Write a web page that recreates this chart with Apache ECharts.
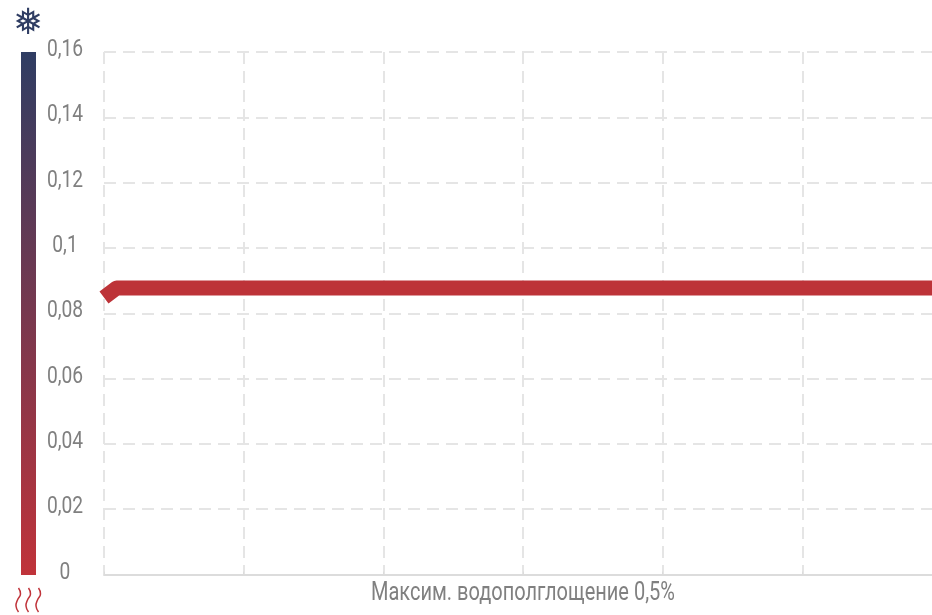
<!DOCTYPE html>
<html>
<head>
<meta charset="utf-8">
<script src="https://cdn.jsdelivr.net/npm/echarts@6/dist/echarts.min.js"></script>
<style>
  html, body { margin: 0; padding: 0; background: #fff; overflow: hidden; }
  #main { width: 932px; height: 615px; }
</style>
</head>
<body>
<div id="main"></div>
<script>
var axisTitle = 'Максим. водополглощение 0,5%';
var yTicks = [0, 0.02, 0.04, 0.06, 0.08, 0.1, 0.12, 0.14, 0.16];
var linePoints = [[0, 0.0848], [0.09, 0.0877], [6, 0.0877]];

var fontName = 'Roboto, sans-serif';
var textColor = '#808080';
var narrow = 0.8; // the original face is a condensed one, none is installed
var dashed = { color: '#e5e5e5', width: 2, type: [12, 7] };

var chart = echarts.init(document.getElementById('main'));

chart.setOption({
    animation: false,
    backgroundColor: '#fff',
    grid: { left: 104, top: 52, width: 838, height: 522.5, outerBoundsMode: 'none' },
    xAxis: {
        type: 'value',
        min: 0,
        max: 6,
        interval: 1,
        axisLabel: { show: false },
        axisLine: { show: true, lineStyle: { color: '#dcdcdc', width: 2 } },
        axisTick: { show: true, length: 3, inside: true, lineStyle: { color: '#dcdcdc', width: 1 } },
        splitLine: { show: true, lineStyle: dashed }
    },
    yAxis: {
        type: 'value',
        min: yTicks[0],
        max: yTicks[yTicks.length - 1],
        interval: 0.02,
        axisLine: { show: false },
        axisTick: { show: false },
        axisLabel: { show: false },
        splitLine: { show: true, lineStyle: dashed }
    },
    graphic: [
        {
            type: 'rect',
            shape: { x: 21, y: 52, width: 15, height: 523 },
            style: {
                fill: {
                    type: 'linear', x: 0, y: 0, x2: 0, y2: 1,
                    colorStops: [{ offset: 0, color: '#2f3d63' }, { offset: 1, color: '#c0333a' }]
                }
            }
        },
        {
            type: 'text',
            x: 28,
            y: 25,
            style: { text: '❅', fontSize: 36, fontFamily: 'DejaVu Sans', fill: '#2f3d63', align: 'center', verticalAlign: 'middle' }
        },
        {
            type: 'group',
            x: 16,
            y: 588,
            children: [0, 10, 20].map(function (dx) {
                return {
                    type: 'polyline',
                    x: dx,
                    shape: { points: [[2.5, 0], [4.5, 6], [1.5, 12], [0, 18], [2.5, 24]], smooth: 0.5 },
                    style: { fill: null, stroke: '#c0333a', lineWidth: 1.5 }
                };
            })
        },
        {
            type: 'text',
            x: 523,
            y: 594,
            scaleX: narrow,
            style: { text: axisTitle, fontSize: 25, fontFamily: fontName, fill: textColor, align: 'center', verticalAlign: 'middle' }
        }
    ],
    series: [
        {
            type: 'line',
            data: linePoints,
            showSymbol: false,
            smooth: false,
            clip: false,
            lineStyle: { color: '#bd3338', width: 15, cap: 'butt', join: 'round' }
        },
        {
            // tick labels, placed by the y axis but squeezed to the narrow look
            type: 'custom',
            data: yTicks.map(function (v) { return [0, v]; }),
            silent: true,
            clip: false,
            renderItem: function (params, api) {
                var p = api.coord([0, api.value(1)]);
                return {
                    type: 'text',
                    x: p[0] - 39,
                    y: p[1] - 2,
                    scaleX: narrow,
                    style: {
                        text: String(api.value(1)).replace('.', ','),
                        fontSize: 24,
                        fontFamily: fontName,
                        fill: textColor,
                        align: 'center',
                        verticalAlign: 'middle'
                    }
                };
            }
        }
    ]
});
</script>
</body>
</html>
